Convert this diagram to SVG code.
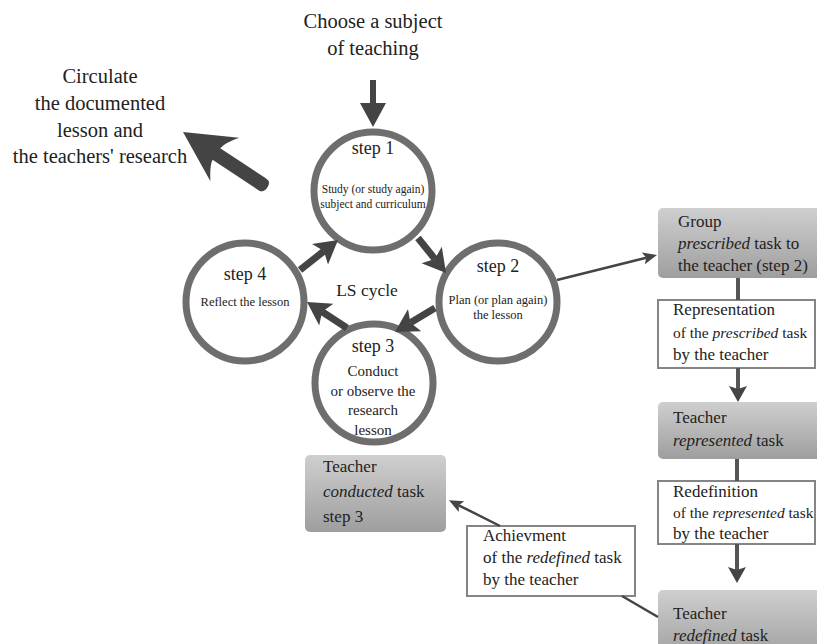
<svg xmlns="http://www.w3.org/2000/svg" width="817" height="644" viewBox="0 0 817 644" font-family="'Liberation Serif', 'DejaVu Serif', serif">
  <defs>
    <linearGradient id="boxFill" x1="0" y1="0" x2="0" y2="1">
      <stop offset="0" stop-color="#cfcfcf"/>
      <stop offset="1" stop-color="#9e9e9e"/>
    </linearGradient>
    <!-- heavy head for the cycle arrows -->
    <marker id="bigHead" markerUnits="userSpaceOnUse" markerWidth="26" markerHeight="30" refX="5" refY="14" orient="auto">
      <path d="M0,1 L23,14 L0,27 L5,14 Z" fill="#444"/>
    </marker>
    <!-- small head for thin connectors -->
    <marker id="thinHead" markerUnits="userSpaceOnUse" markerWidth="16" markerHeight="14" refX="3" refY="7" orient="auto">
      <path d="M0,1 L14,7 L0,13 L3,7 Z" fill="#444"/>
    </marker>
    <!-- medium head for the vertical flow arrows -->
    <marker id="midHead" markerUnits="userSpaceOnUse" markerWidth="20" markerHeight="20" refX="3" refY="9" orient="auto">
      <path d="M0,0 L16,9 L0,18 L3,9 Z" fill="#444"/>
    </marker>
  </defs>
  <style>
    text { font-family: "Liberation Serif", "DejaVu Serif", serif; fill: #222; }
    .ring { fill: #fff; stroke: #6e6e6e; stroke-width: 7; }
    .grey { fill: url(#boxFill); }
    .plain { fill: #fff; stroke: #858585; stroke-width: 2; }
    .c { text-anchor: middle; }
    .big { font-size: 20.5px; }
    .step { font-size: 18px; }
    .box { font-size: 17px; }
    .narrow { font-size: 15.5px; }
    .i { font-style: italic; }
    .cyc { stroke: #444; stroke-width: 7; fill: none; marker-end: url(#bigHead); }
    .thin { stroke: #444; stroke-width: 2.5; fill: none; }
    .flow { stroke: #555; stroke-width: 4; fill: none; }
  </style>

  <rect width="817" height="644" fill="#fff"/>

  <!-- entry and exit labels -->
  <g id="choose-subject">
    <text class="big c" x="373" y="28">Choose a subject</text>
    <text class="big c" x="373" y="55">of teaching</text>
  </g>
  <g id="circulate">
    <text class="big c" x="100" y="83">Circulate</text>
    <text class="big c" x="100" y="110">the documented</text>
    <text class="big c" x="100" y="137">lesson and</text>
    <text class="big c" x="100" y="163">the teachers' research</text>
  </g>

  <!-- the four stages of the cycle -->
  <g id="step1">
    <circle class="ring" cx="373" cy="191" r="59"/>
    <text class="step c" x="373" y="154">step 1</text>
    <text class="c" x="373" y="193" font-size="11.5">Study (or study again)</text>
    <text class="c" x="373" y="208" font-size="11.5">subject and curriculum</text>
  </g>
  <g id="step2">
    <circle class="ring" cx="498" cy="302" r="59"/>
    <text class="step c" x="498" y="272">step 2</text>
    <text class="c" x="498" y="304" font-size="12.5">Plan (or plan again)</text>
    <text class="c" x="498" y="319" font-size="12.5">the lesson</text>
  </g>
  <g id="step3">
    <circle class="ring" cx="374" cy="383" r="59"/>
    <text class="step c" x="373" y="352">step 3</text>
    <text class="c" x="373" y="376" font-size="15">Conduct</text>
    <text class="c" x="373" y="396" font-size="15">or observe the</text>
    <text class="c" x="373" y="415" font-size="15">research</text>
    <text class="c" x="373" y="435" font-size="15">lesson</text>
  </g>
  <g id="step4">
    <circle class="ring" cx="245" cy="302" r="59"/>
    <text class="step c" x="245" y="280">step 4</text>
    <text class="c" x="245" y="306" font-size="12.5">Reflect the lesson</text>
  </g>
  <g id="ls-cycle">
    <text class="c" x="367" y="296" font-size="17.5">LS cycle</text>
  </g>

  <!-- task boxes -->
  <g id="group-prescribed">
    <rect class="grey" x="658" y="208" width="175" height="70" rx="5"/>
    <text class="box" x="678" y="227">Group</text>
    <text class="box" x="678" y="249"><tspan class="i">prescribed</tspan> task to</text>
    <text class="box" x="678" y="271">the teacher (step 2)</text>
  </g>
  <g id="representation">
    <rect class="plain" x="658" y="300" width="157" height="68"/>
    <text class="box" x="673" y="315">Representation</text>
    <text class="narrow" x="673" y="338">of the <tspan class="i">prescribed</tspan> task</text>
    <text class="box" x="673" y="360">by the teacher</text>
  </g>
  <g id="teacher-represented">
    <rect class="grey" x="658" y="402" width="175" height="57" rx="5"/>
    <text class="box" x="673" y="423">Teacher</text>
    <text class="box" x="673" y="446"><tspan class="i">represented</tspan> task</text>
  </g>
  <g id="redefinition">
    <rect class="plain" x="658" y="481" width="157" height="63"/>
    <text class="box" x="673" y="497">Redefinition</text>
    <text class="narrow" x="673" y="518">of the <tspan class="i">represented</tspan> task</text>
    <text class="box" x="673" y="539">by the teacher</text>
  </g>
  <g id="teacher-redefined">
    <rect class="grey" x="658" y="590" width="175" height="70" rx="5"/>
    <text class="box" x="673" y="619">Teacher</text>
    <text class="box" x="673" y="641"><tspan class="i">redefined</tspan> task</text>
  </g>
  <g id="teacher-conducted">
    <rect class="grey" x="305" y="455" width="141" height="77" rx="5"/>
    <text class="box" x="323" y="472" font-size="18">Teacher</text>
    <text class="box" x="323" y="497" font-size="18"><tspan class="i">conducted</tspan> task</text>
    <text class="box" x="323" y="522" font-size="18">step 3</text>
  </g>
  <g id="achievement">
    <rect class="plain" x="467" y="526" width="168" height="70"/>
    <text class="box" x="483" y="541">Achievment</text>
    <text class="box" x="483" y="563">of the <tspan class="i">redefined</tspan> task</text>
    <text class="box" x="483" y="585">by the teacher</text>
  </g>

  <!-- connectors -->
  <g id="connectors">
    <!-- entry arrow into step 1 -->
    <path d="M370,80 L376,80 L376,103 L386,103 L373,127 L360,103 L370,103 Z" fill="#444"/>
    <!-- exit arrow out of the cycle -->
    <path transform="translate(183,132) rotate(33.4)" d="M0,0 L50,-26 Q41,-14 40,-7 L95,-7 Q101,-7 101,0 Q101,7 95,7 L40,7 Q41,14 50,26 Z" fill="#444"/>
    <!-- cycle arrows -->
    <line class="cyc" x1="418" y1="238" x2="434.8" y2="258.9"/>
    <line class="cyc" x1="435" y1="308" x2="410.4" y2="322.7"/>
    <line class="cyc" x1="347" y1="328" x2="322.1" y2="311.8"/>
    <line class="cyc" x1="300" y1="270" x2="323.9" y2="251.1"/>
    <!-- step 2 to the prescribed task -->
    <line class="thin" x1="557" y1="280" x2="646.3" y2="257.7" marker-end="url(#thinHead)"/>
    <!-- vertical flow in the right column -->
    <line class="flow" x1="738" y1="278" x2="738" y2="300"/>
    <line class="flow" x1="738" y1="368" x2="738" y2="389" marker-end="url(#midHead)"/>
    <line class="flow" x1="737" y1="459" x2="737" y2="481"/>
    <line class="flow" x1="737" y1="544" x2="737" y2="570" marker-end="url(#midHead)"/>
    <!-- achievement back to the conducted task -->
    <line class="thin" x1="500" y1="526" x2="458.8" y2="505.3" marker-end="url(#thinHead)"/>
    <line class="thin" x1="622" y1="596" x2="658" y2="617"/>
  </g>
</svg>
